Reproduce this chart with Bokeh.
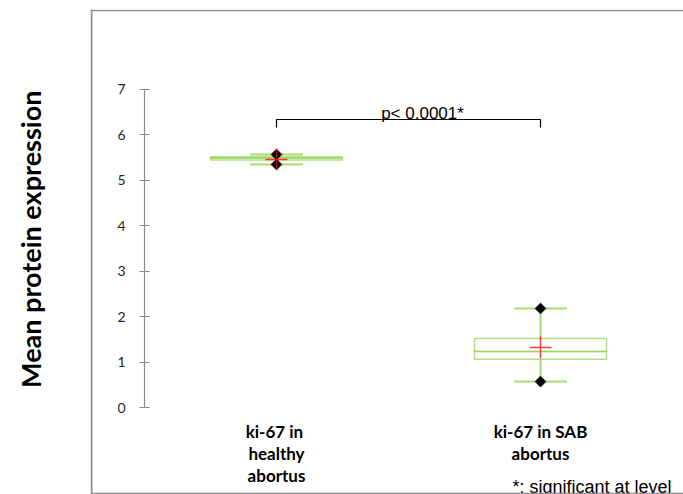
import math
from bokeh.plotting import figure
from bokeh.layouts import row
from bokeh.models import Range1d, LinearAxis, FixedTicker, Span, ColumnDataSource
from bokeh.transform import dodge
from bokeh.core.properties import value
from bokeh.embed import file_html
from bokeh.resources import INLINE

# ---- data ----
categories = ["ki-67  in\nhealthy\nabortus", "ki-67 in SAB\nabortus"]
cat_x = [1, 2]
q_min = [5.35, 0.57]
q1 = [5.45, 1.06]
median = [5.49, 1.23]
q3 = [5.52, 1.52]
q_max = [5.57, 2.18]
mean = [5.46, 1.32]
y_ticks = [0, 1, 2, 3, 4, 5, 6, 7]
p_label = "p< 0.0001*"
y_title = "Mean protein expression"
footnote = "*: significant at level"

# ---- geometry (picture pixels) ----
PX_X = 264.0          # pixels per category unit
PX_Y = 45.43          # pixels per y unit
X1_PAGE = 276.0       # x of category 1
Y0_PAGE = 407.0       # y of value 0
TITLE_W = 90          # width of the title strip
FRAME_L, FRAME_R, FRAME_T, FRAME_B = TITLE_W, 683, 9, 494

def xd(px):
    return 1 + (px - X1_PAGE) / PX_X

def yd(py):
    return (Y0_PAGE - py) / PX_Y

# ---- title strip (left) ----
t = figure(width=TITLE_W, height=494, x_range=Range1d(0, TITLE_W), y_range=Range1d(494, 0),
           output_backend="svg", toolbar_location=None,
           x_axis_location=None, y_axis_location=None,
           min_border_left=0, min_border_right=0, min_border_top=0, min_border_bottom=0)
t.grid.grid_line_color = None
t.outline_line_color = None
t.text(x=[30], y=[234], text=[y_title], angle=math.pi / 2, text_align="center",
       text_baseline="middle", text_font=value("Lato"), text_font_style="bold",
       text_font_size="27px", text_color="black")

# ---- main chart ----
p = figure(width=683 - TITLE_W, height=494,
           x_range=Range1d(xd(FRAME_L), xd(FRAME_R)),
           y_range=Range1d(yd(FRAME_B), yd(FRAME_T)),
           output_backend="svg", toolbar_location=None,
           x_axis_location=None, y_axis_location=None,
           min_border_left=0, min_border_right=0,
           min_border_top=FRAME_T, min_border_bottom=0)
p.grid.grid_line_color = None
p.outline_line_color = None
p.background_fill_color = "white"
p.border_fill_color = "white"

# chart-area border
border_col = "#8f8f8f"
p.add_layout(Span(location=xd(91), dimension="height", line_color=border_col, line_width=2))
p.add_layout(Span(location=yd(10), dimension="width", line_color=border_col, line_width=1.5))
p.add_layout(Span(location=yd(493), dimension="width", line_color=border_col, line_width=1.5))

# y axis with ticks, drawn inside the chart area
yaxis = LinearAxis(ticker=FixedTicker(ticks=y_ticks), fixed_location=xd(144), bounds=(0, 7),
                   axis_line_color="#8a8a8a", axis_line_width=1.2,
                   major_tick_line_color="#8a8a8a", major_tick_in=5, major_tick_out=5,
                   minor_tick_line_color=None,
                   major_label_standoff=14,
                   major_label_text_font="Lato", major_label_text_font_size="14px",
                   major_label_text_color="#262626")
p.add_layout(yaxis, "left")

src = ColumnDataSource(dict(x=cat_x, q_min=q_min, q1=q1, median=median, q3=q3,
                            q_max=q_max, mean=mean, label=categories))

green = "#92D050"
# whiskers
p.segment(x0="x", y0="q3", x1="x", y1="q_max", source=src, line_color=green, line_alpha=0.8, line_width=2)
p.segment(x0="x", y0="q1", x1="x", y1="q_min", source=src, line_color=green, line_alpha=0.8, line_width=2)
p.segment(x0=dodge("x", -0.1), y0="q_max", x1=dodge("x", 0.1), y1="q_max", source=src,
          line_color=green, line_alpha=0.8, line_width=2)
p.segment(x0=dodge("x", -0.1), y0="q_min", x1=dodge("x", 0.1), y1="q_min", source=src,
          line_color=green, line_alpha=0.8, line_width=2)
# boxes (lower and upper halves)
p.vbar(x="x", width=0.5, bottom="q1", top="median", source=src, fill_color=None,
       line_color=green, line_alpha=0.7, line_width=1.5)
p.vbar(x="x", width=0.5, bottom="median", top="q3", source=src, fill_color=None,
       line_color=green, line_alpha=0.7, line_width=1.5)
# min / max markers
p.scatter(x="x", y="q_max", source=src, marker="square", angle=math.pi / 4, size=7.5,
          fill_color="black", line_color="black")
p.scatter(x="x", y="q_min", source=src, marker="square", angle=math.pi / 4, size=7.5,
          fill_color="black", line_color="black")
# mean
p.scatter(x="x", y="mean", source=src, marker="cross", size=22, line_color="red",
          line_alpha=0.75, line_width=1.5)

# significance bracket
b_hi, b_lo = yd(119), yd(127)
p.line(x=[cat_x[0], cat_x[0], cat_x[1], cat_x[1]], y=[b_lo, b_hi, b_hi, b_lo],
       line_color="black", line_width=1.2)
p.text(x=[xd(422)], y=[yd(113)], text=[p_label], text_align="center", text_baseline="alphabetic",
       text_font=value("Liberation Sans"), text_font_size="17px", text_color="black")

# category labels
p.text(x="x", y=yd(420), text="label", source=src, text_align="center", text_baseline="top",
       text_font=value("Lato"), text_font_style="bold", text_font_size="17px",
       text_line_height=1.06, text_color="black")

# footnote
p.text(x=[xd(512)], y=[yd(486)], text=[footnote], text_align="left", text_baseline="alphabetic",
       text_font=value("Liberation Sans"), text_font_size="18px", text_color="black")

layout = row(t, p, spacing=0)
open("out.html", "w").write(file_html(layout, INLINE))
